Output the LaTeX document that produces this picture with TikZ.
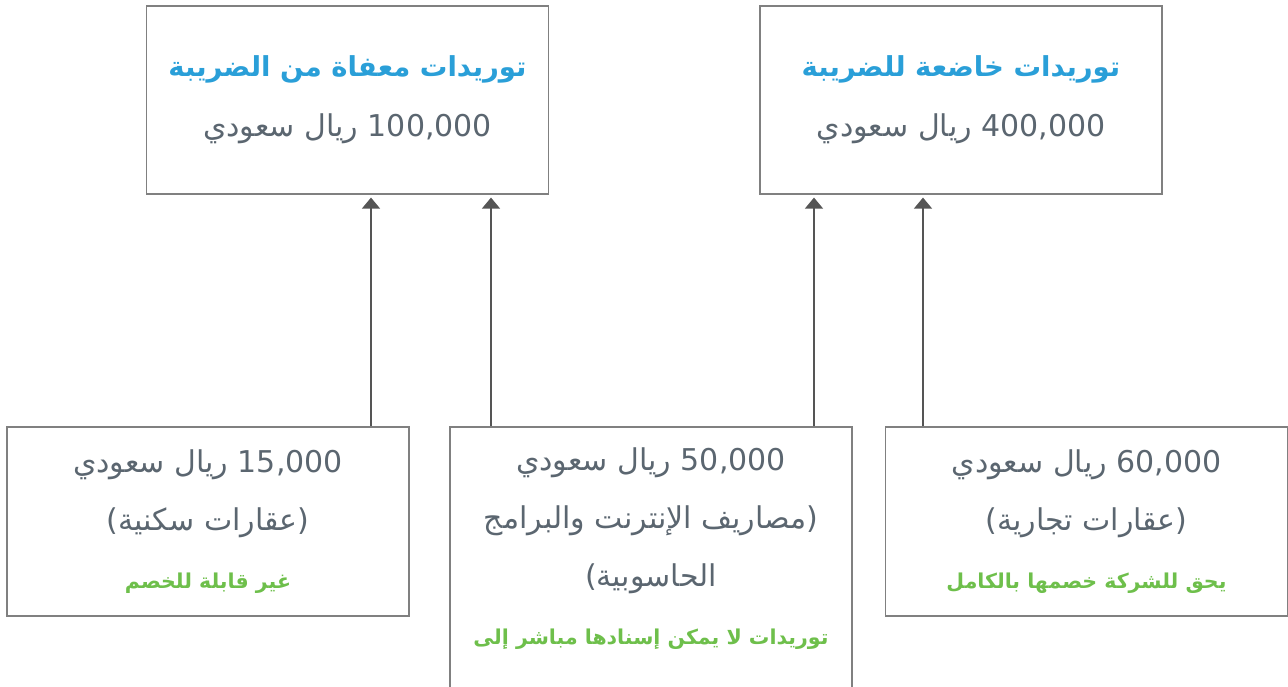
\documentclass[tikz,border=0pt]{standalone}
\usepackage{fontspec}
\newfontfamily\arabicfont[Script=Arabic]{DejaVu Sans}
\TeXXeTstate=1
\usetikzlibrary{positioning,arrows.meta}
\definecolor{BoxLine}{HTML}{808080}
\definecolor{ArrowGrey}{HTML}{555555}
\definecolor{TitleBlue}{HTML}{2A9FD8}
\definecolor{TextGrey}{HTML}{5B6670}
\definecolor{NoteGreen}{HTML}{6EBF4B}
\newcommand{\arline}[1]{\beginR #1\endR}
\newcommand{\latinrun}[1]{\beginL #1\endL{}}
\newcommand{\boxtitle}[1]{{\fontsize{27.5}{60}\selectfont\bfseries\color{TitleBlue}\beginR #1\endR}}
\newcommand{\boxnote}[1]{{\fontsize{20.5}{56}\selectfont\bfseries\color{NoteGreen}\beginR #1\endR}}

\begin{document}
\begin{tikzpicture}[x=1pt, y=-1pt, >={Triangle[width=18pt,length=11pt]},
    lines/.style={align=center, text=TextGrey, inner sep=0pt, font=\arabicfont\fontsize{30}{58}\selectfont},
    box/.style={lines, draw=BoxLine, line width=1.2pt, rectangle, minimum width=402pt},
    topbox/.style={box, minimum height=188pt, font=\arabicfont\fontsize{30}{60}\selectfont},
    lowbox/.style={box, minimum height=189pt},
    flow/.style={->, color=ArrowGrey, line width=1.3pt, shorten >=3pt}]
  \useasboundingbox (0,0) rectangle (1288,686);
  \clip (0,0) rectangle (1288,686);

  % Top boxes
  \node[topbox] (exempt) at (347.5,100)
    {\boxtitle{توريدات معفاة من الضريبة}\\ \arline{\latinrun{100,000} ريال سعودي}};
  \node[topbox] (taxable) at (961,100)
    {\boxtitle{توريدات خاضعة للضريبة}\\ \arline{\latinrun{400,000} ريال سعودي}};

  % Bottom boxes
  \node[lowbox] (resid) at (208,521.5)
    {\arline{\latinrun{15,000} ريال سعودي}\\ \arline{(عقارات سكنية)}\\ \boxnote{غير قابلة للخصم}};
  \node[lowbox, minimum height=320pt] (internet) at (651,587) {};
  \node[lines] (internettxt) at ([yshift=-122.5pt]internet.north)
    {\arline{\latinrun{50,000} ريال سعودي}\\ \arline{(مصاريف الإنترنت والبرامج}\\ \arline{الحاسوبية)}\\ \boxnote{توريدات لا يمكن إسنادها مباشر إلى}};
  \node[lowbox] (commer) at (1086.5,521.5)
    {\arline{\latinrun{60,000} ريال سعودي}\\ \arline{(عقارات تجارية)}\\ \boxnote{يحق للشركة خصمها بالكامل}};

  % Arrows
  \coordinate (residup) at ([xshift=163pt]resid.north);
  \coordinate (internetl) at ([xshift=-160pt]internet.north);
  \coordinate (internetr) at ([xshift=163pt]internet.north);
  \coordinate (commerup) at ([xshift=-163.5pt]commer.north);
  \draw[flow] (residup) -- (residup |- exempt.south);
  \draw[flow] (internetl) -- (internetl |- exempt.south);
  \draw[flow] (internetr) -- (internetr |- taxable.south);
  \draw[flow] (commerup) -- (commerup |- taxable.south);
\end{tikzpicture}
\end{document}
